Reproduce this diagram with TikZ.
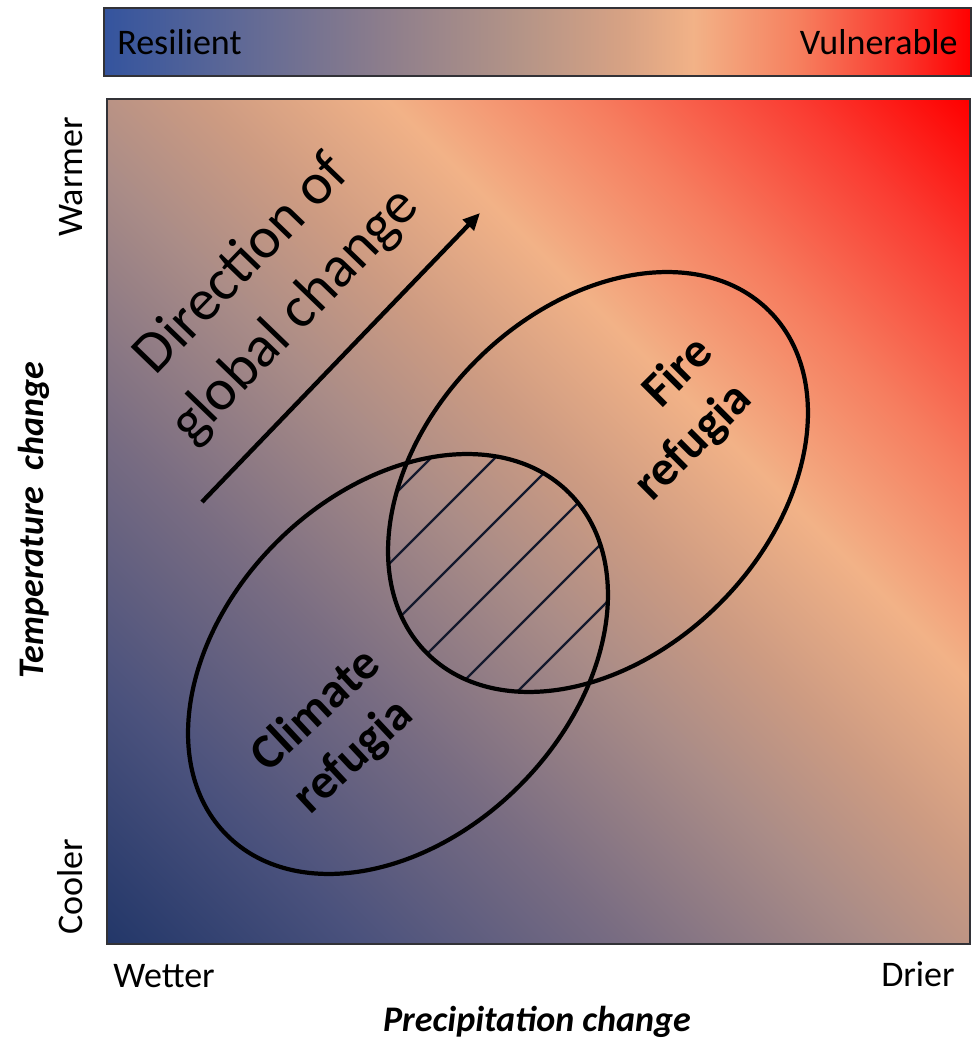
\documentclass[tikz,border=0pt]{standalone}
\usepackage{fontspec}
\setmainfont{Carlito}
\usetikzlibrary{arrows.meta}
% colour bar colours
\definecolor{b0}{RGB}{52,84,158}
\definecolor{b1}{RGB}{85,100,152}
\definecolor{b2}{RGB}{140,125,140}
\definecolor{b3}{RGB}{180,148,135}
\definecolor{b4}{RGB}{215,162,132}
\definecolor{b5}{RGB}{242,178,135}
\definecolor{b6}{RGB}{246,128,95}
\definecolor{b7}{RGB}{250,55,45}
\definecolor{b8}{RGB}{255,0,0}
% main field colours
\definecolor{m0}{RGB}{35,55,105}
\definecolor{m1}{RGB}{75,82,125}
\definecolor{m2}{RGB}{120,108,130}
\definecolor{m3}{RGB}{170,140,135}
\definecolor{m4}{RGB}{205,155,130}
\definecolor{m5}{RGB}{242,178,135}
\definecolor{m6}{RGB}{246,125,95}
\definecolor{m7}{RGB}{250,60,50}
\definecolor{m8}{RGB}{255,0,0}
\definecolor{framegray}{RGB}{50,50,55}
\definecolor{hatchcol}{RGB}{20,25,45}
\pgfdeclarehorizontalshading{barshade}{100bp}{color(0bp)=(b0); color(25bp)=(b0); color(31bp)=(b1); color(41bp)=(b2); color(49bp)=(b3); color(55bp)=(b4); color(59bp)=(b5); color(65bp)=(b6); color(71bp)=(b7); color(75bp)=(b8); color(100bp)=(b8)}
\pgfdeclarehorizontalshading{fieldshade}{100bp}{color(0bp)=(m0); color(14.64bp)=(m0); color(25.25bp)=(m1); color(35.85bp)=(m2); color(46.46bp)=(m3); color(53.53bp)=(m4); color(61.31bp)=(m5); color(69.79bp)=(m6); color(78.28bp)=(m7); color(85.36bp)=(m8); color(100bp)=(m8)}
\tikzset{
  frame/.style={draw=framegray, line width=0.85pt},
  refugium/.style={draw=black, line width=2.4pt},
  hatchline/.style={draw=hatchcol, line width=1.35pt},
  lbl/.style={font=\fontsize{20.5}{24}\selectfont, inner sep=0pt},
  axistitle/.style={font=\fontsize{20.5}{24}\selectfont\bfseries\itshape, inner sep=0pt},
  regionlbl/.style={font=\fontsize{28}{32}\selectfont\bfseries, inner sep=0pt},
  biglbl/.style={font=\fontsize{33.5}{42}\selectfont, align=center, inner sep=0pt},
}
\begin{document}
\begin{tikzpicture}[x=0.02cm, y=0.02cm]
\useasboundingbox (0,0) rectangle (973,1046);
% colour bar
\shade[shading=barshade] (104,970) rectangle (971,1038);
\draw[frame] (104,970) rectangle (971,1038);
\node[lbl, anchor=base west] (res) at (117,991) {Resilient};
\node[lbl, anchor=base east] (vul) at (958,991) {Vulnerable};
% main field
\shade[shading=fieldshade, shading angle=45] (107,102) rectangle (970,947);
% hatching of the overlap
\begin{scope}
  \clip[rotate around={45:(598,564)}] (598,564) ellipse [x radius=242, y radius=172];
  \clip[rotate around={45:(398,382)}] (398,382) ellipse [x radius=242, y radius=172];
  \foreach \c in {889,953,1017,1081,1145,1209,1273}
    \draw[hatchline] (300,{1346-\c}) -- (750,{1796-\c});
\end{scope}
% ellipses
\draw[refugium, rotate around={45:(598,564)}] (598,564) ellipse [x radius=242, y radius=172];
\draw[refugium, rotate around={45:(398,382)}] (398,382) ellipse [x radius=242, y radius=172];
\draw[frame] (107,102) rectangle (970,947);
% labels inside
\node[regionlbl, rotate=45] (fire1) at (676,676) {Fire};
\node[regionlbl, rotate=45] (fire2) at (694,603) {refugia};
\node[regionlbl, rotate=43] (clim1) at (314,338) {Climate};
\node[regionlbl, rotate=43] (clim2) at (354,289) {refugia};
\node[biglbl, rotate=46] (dir) at (269,755) {Direction of\\global change};
\coordinate (arrS) at (202,544);
\coordinate (arrE) at (480,833);
\draw[line width=2.5pt, -{Triangle[length=0.34cm, width=0.3cm]}] (arrS) -- (arrE);
% axis labels
\node[lbl, rotate=90, anchor=base] (warm) at (82,869) {Warmer};
\node[lbl, rotate=90, anchor=base] (cool) at (82,159) {Cooler};
\node[axistitle, rotate=90, anchor=base] (temp) at (43,526) {Temperature\ \ change};
\node[lbl, anchor=base] (wet) at (164,58) {Wetter};
\node[lbl, anchor=base] (dry) at (918,59) {Drier};
\node[axistitle, anchor=base] (prec) at (537,14) {Precipitation change};
\end{tikzpicture}
\end{document}
